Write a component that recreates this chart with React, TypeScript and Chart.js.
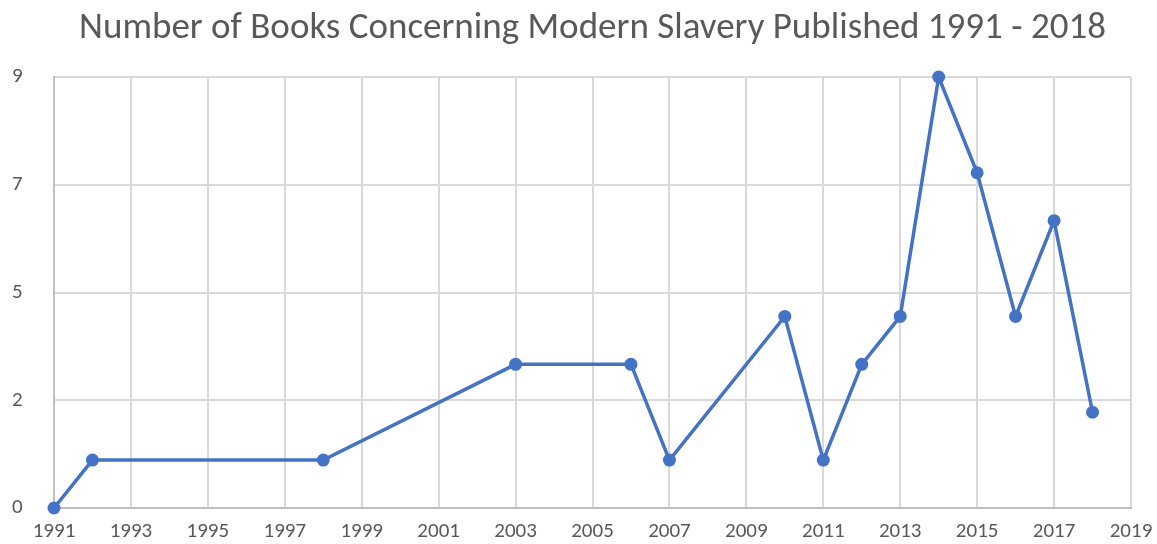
import React, { useEffect, useRef } from "react";
import { Chart, registerables } from "chart.js";

Chart.register(...registerables);

const years = [1991, 1992, 1998, 2003, 2006, 2007, 2010, 2011, 2012, 2013, 2014, 2015, 2016, 2017, 2018];
const books = [0, 1, 1, 3, 3, 1, 4, 1, 3, 4, 9, 7, 4, 6, 2];
const titleText = "Number of Books Concerning Modern Slavery Published 1991 - 2018";
const xMin = 1991;
const xMax = 2019;
const xStep = 2;
const yMin = 0;
const yMax = 9;
const yStep = 2.25;

const FONT = "Carlito, Calibri, Lato, 'Open Sans', sans-serif";

export default function App() {
  const ref = useRef<HTMLCanvasElement | null>(null);
  useEffect(() => {
    document.body.style.margin = "0";
    if (!ref.current) return;
    const chart = new Chart(ref.current, {
      type: "line",
      data: {
        datasets: [
          {
            data: years.map((y, i) => ({ x: y, y: books[i] })),
            borderColor: "#4472C4",
            backgroundColor: "#4472C4",
            borderWidth: 3.5,
            pointRadius: 6.5,
            pointHoverRadius: 6.5,
            pointBorderWidth: 0,
            tension: 0,
            clip: false,
          },
        ],
      },
      options: {
        animation: false,
        responsive: false,
        maintainAspectRatio: false,
        layout: { padding: { left: 12, right: 26, top: 0, bottom: 0 } },
        plugins: {
          legend: { display: false },
          tooltip: { enabled: false },
          title: {
            display: true,
            fullSize: false,
            text: titleText,
            color: "#595959",
            font: { family: FONT, size: 37, weight: "normal", lineHeight: 1.2 },
            padding: { top: 7, bottom: 25.6 },
          },
        },
        scales: {
          x: {
            type: "linear",
            min: xMin,
            max: xMax,
            ticks: {
              stepSize: xStep,
              color: "#595959",
              font: { family: FONT, size: 21 },
              padding: 0,
              maxRotation: 0,
              callback: (v: any) => String(v),
            },
            grid: {
              color: "#d9d9d9",
              lineWidth: 2,
              drawTicks: true,
              tickLength: 11,
              tickColor: "rgba(0,0,0,0)",
            },
            border: { color: "#bfbfbf", width: 2 },
            afterFit: (s: any) => {
              s.height = 36;
            },
          },
          y: {
            min: yMin,
            max: yMax,
            ticks: {
              stepSize: yStep,
              color: "#595959",
              font: { family: FONT, size: 21 },
              padding: 0,
              crossAlign: "far",
              callback: (v: any) => String(Math.round(Number(v))),
            },
            grid: { color: "#d9d9d9", lineWidth: 2, drawTicks: false },
            border: { color: "#bfbfbf", width: 2 },
            afterFit: (s: any) => {
              s.width = 42;
            },
          },
        },
      },
    });
    return () => chart.destroy();
  }, []);
  return (
    <div style={{ width: 1157, height: 544 }}>
      <canvas ref={ref} width={1157} height={544} style={{ width: 1157, height: 544 }} />
    </div>
  );
}
